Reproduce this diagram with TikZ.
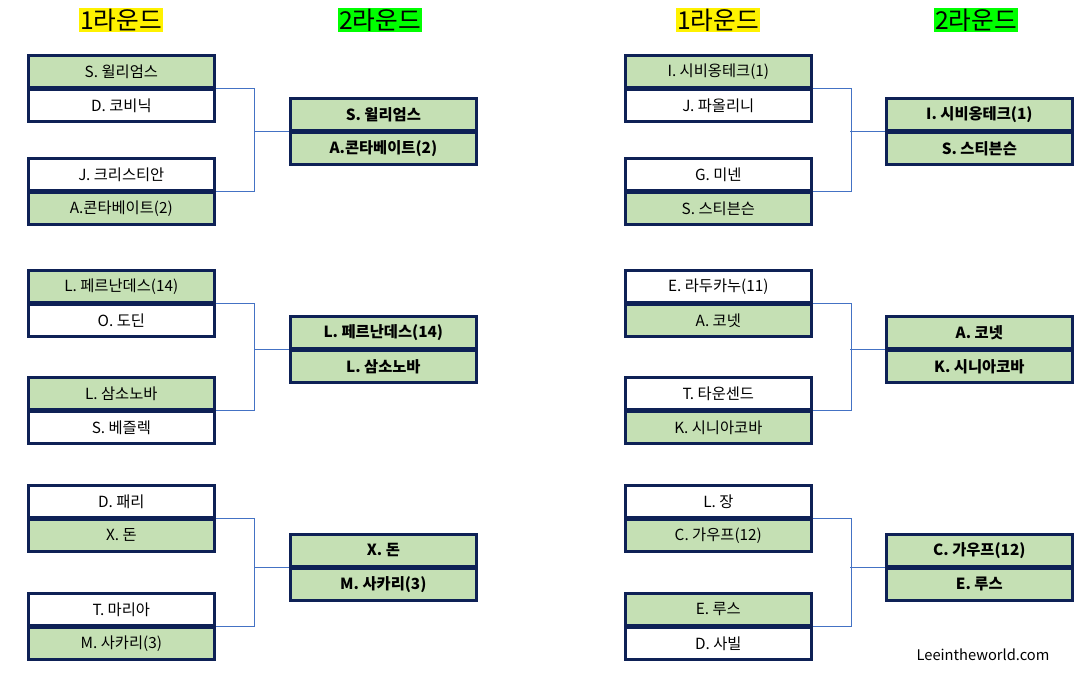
\documentclass[tikz,border=0pt]{standalone}
\usepackage{fontspec}
\setmainfont{Noto Sans CJK KR}
\definecolor{gfill}{HTML}{C5E0B4}
\definecolor{navy}{HTML}{0E2156}
\definecolor{conncol}{HTML}{4472C4}
\begin{document}
\begin{tikzpicture}[x=0.75pt,y=-0.75pt,
  bx/.style={draw=navy,line width=2pt,anchor=north west,minimum width=139.5pt,minimum height=24pt,inner sep=0pt,font=\fontsize{11.5}{13}\selectfont},
  win/.style={bx,fill=gfill},
  lose/.style={bx,fill=white},
  r2/.style={bx,fill=gfill,font=\fontsize{11.5}{13}\selectfont\bfseries},
  conn/.style={draw=conncol,line width=0.6pt},
  hdr/.style={inner sep=0.5pt,font=\fontsize{18.5}{21}\selectfont}]
\useasboundingbox (0,0) rectangle (1090,679);
% headers
\node[hdr,fill=yellow] (h1) at (121,20) {1라운드};
\node[hdr,fill=green] (h2) at (380,20) {2라운드};
\node[hdr,fill=yellow] (h3) at (718,20) {1라운드};
\node[hdr,fill=green] (h4) at (976,20) {2라운드};
% left column round 1
\node[win]  (a1) at (27,54)  {S. 윌리엄스};
\node[lose] (a2) at (27,88)  {D. 코비닉};
\node[lose] (a3) at (27,157) {J. 크리스티안};
\node[win]  (a4) at (27,191) {A.콘타베이트(2)};
\node[win]  (b1) at (27,269) {L. 페르난데스(14)};
\node[lose] (b2) at (27,303) {O. 도딘};
\node[win]  (b3) at (27,376) {L. 삼소노바};
\node[lose] (b4) at (27,410) {S. 베즐렉};
\node[lose] (c1) at (27,484) {D. 패리};
\node[win]  (c2) at (27,518) {X. 돈};
\node[lose] (c3) at (27,592) {T. 마리아};
\node[win]  (c4) at (27,626) {M. 사카리(3)};
% left round 2
\node[r2] (ra1) at (289,97)  {S. 윌리엄스};
\node[r2] (ra2) at (289,131) {A.콘타베이트(2)};
\node[r2] (rb1) at (289,315) {L. 페르난데스(14)};
\node[r2] (rb2) at (289,349) {L. 삼소노바};
\node[r2] (rc1) at (289,533) {X. 돈};
\node[r2] (rc2) at (289,567) {M. 사카리(3)};
% right column round 1
\node[win]  (d1) at (624,54)  {I. 시비옹테크(1)};
\node[lose] (d2) at (624,88)  {J. 파올리니};
\node[lose] (d3) at (624,157) {G. 미넨};
\node[win]  (d4) at (624,191) {S. 스티븐슨};
\node[lose] (e1) at (624,269) {E. 라두카누(11)};
\node[win]  (e2) at (624,303) {A. 코넷};
\node[lose] (e3) at (624,376) {T. 타운센드};
\node[win]  (e4) at (624,410) {K. 시니아코바};
\node[lose] (f1) at (624,484) {L. 장};
\node[win]  (f2) at (624,518) {C. 가우프(12)};
\node[win]  (f3) at (624,592) {E. 루스};
\node[lose] (f4) at (624,626) {D. 사빌};
% right round 2
\node[r2] (rd1) at (885,97)  {I. 시비옹테크(1)};
\node[r2] (rd2) at (885,131) {S. 스티븐슨};
\node[r2] (re1) at (885,315) {A. 코넷};
\node[r2] (re2) at (885,349) {K. 시니아코바};
\node[r2] (rf1) at (885,533) {C. 가우프(12)};
\node[r2] (rf2) at (885,567) {E. 루스};
% connectors
\foreach \p/\q/\r in {a1/a3/ra1,b1/b3/rb1,c1/c3/rc1,d1/d3/rd1,e1/e3/re1,f1/f3/rf1}{
  \draw[conn] (\p.south east) -- ++(39,0) |- (\q.south east);
  \draw[conn] (\r.south west) -- ++(-35,0);
}
\node[font=\fontsize{11}{12}\selectfont] (wm) at (983,655) {Leeintheworld.com};
\end{tikzpicture}
\end{document}
